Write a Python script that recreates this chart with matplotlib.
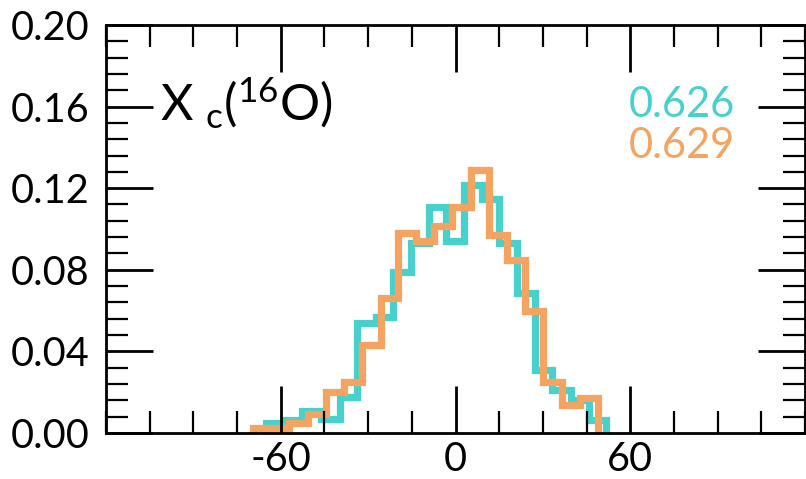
import matplotlib
matplotlib.use("Agg")
import matplotlib.pyplot as plt
from matplotlib.ticker import MultipleLocator, FixedLocator

# step histograms (bin edges and heights)
teal_edges = [-65.2, -58.9, -52.6, -46.3, -39.8, -33.7, -27.4, -21.5, -15.2, -9.1,
              -3.2, 2.9, 9.0, 14.9, 21.2, 27.2, 33.2, 39.5, 45.8, 51.6]
teal_vals = [0.0049, 0.0062, 0.0110, 0.0071, 0.0177, 0.0537, 0.0570, 0.0790, 0.0929, 0.1110,
             0.0942, 0.1215, 0.1145, 0.0929, 0.0684, 0.0308, 0.0210, 0.0160, 0.0062]

orange_edges = [-69.5, -63.3, -57.0, -50.8, -44.6, -38.3, -32.0, -25.7, -19.6, -13.5,
                -7.3, -1.1, 5.2, 11.4, 17.6, 23.9, 30.1, 36.4, 42.6, 48.9]
orange_vals = [0.0025, 0.0025, 0.0048, 0.0095, 0.0202, 0.0250, 0.0430, 0.0660, 0.0979, 0.0942,
               0.1014, 0.1110, 0.1290, 0.0970, 0.0850, 0.0600, 0.0250, 0.0136, 0.0174]

teal_label = "0.626"
orange_label = "0.629"
panel_label = r"X $_{\mathrm{c}}$($^{16}$O)"

xticks = [-60, 0, 60]
yticks = [0.00, 0.04, 0.08, 0.12, 0.16, 0.20]

teal = "#48D1CC"
orange = "#F4A460"

plt.rcParams["font.family"] = ["Lato", "DejaVu Sans"]
plt.rcParams["mathtext.fontset"] = "custom"
plt.rcParams["mathtext.rm"] = "Lato"
plt.rcParams["mathtext.it"] = "Lato:italic"
plt.rcParams["axes.unicode_minus"] = False

fig = plt.figure(figsize=(8.06, 4.79), dpi=100)
ax = fig.add_axes([0.1315, 0.096, 0.8673, 0.852])

ax.stairs(teal_vals, teal_edges, color=teal, lw=5.2, baseline=0)
ax.stairs(orange_vals, orange_edges, color=orange, lw=5.2, baseline=0)

ax.set_xlim(-120, 120)
ax.set_ylim(0, 0.20)

ax.xaxis.set_major_locator(FixedLocator(xticks))
ax.xaxis.set_minor_locator(MultipleLocator(15))
ax.yaxis.set_major_locator(FixedLocator(yticks))
ax.yaxis.set_minor_locator(MultipleLocator(0.008))
ax.set_xticklabels([str(t) for t in xticks])
ax.set_yticklabels(["%.2f" % t for t in yticks])

ax.tick_params(which="both", direction="in", top=True, right=True, labelsize=28.5, color="black")
ax.tick_params(which="major", length=33.5, width=2.0)
ax.tick_params(which="minor", length=16, width=1.6)
ax.tick_params(axis="x", which="major", pad=6)
ax.tick_params(axis="y", which="major", pad=12)
for s in ax.spines.values():
    s.set_linewidth(2.0)
    s.set_zorder(3)

ax.text(0.077, 0.767, panel_label, transform=ax.transAxes, fontsize=36, ha="left", va="baseline")
ax.text(0.90, 0.775, teal_label, transform=ax.transAxes, fontsize=30, color=teal, ha="right", va="baseline")
ax.text(0.90, 0.674, orange_label, transform=ax.transAxes, fontsize=30, color=orange, ha="right", va="baseline")

fig.savefig("out.png", dpi=100)
